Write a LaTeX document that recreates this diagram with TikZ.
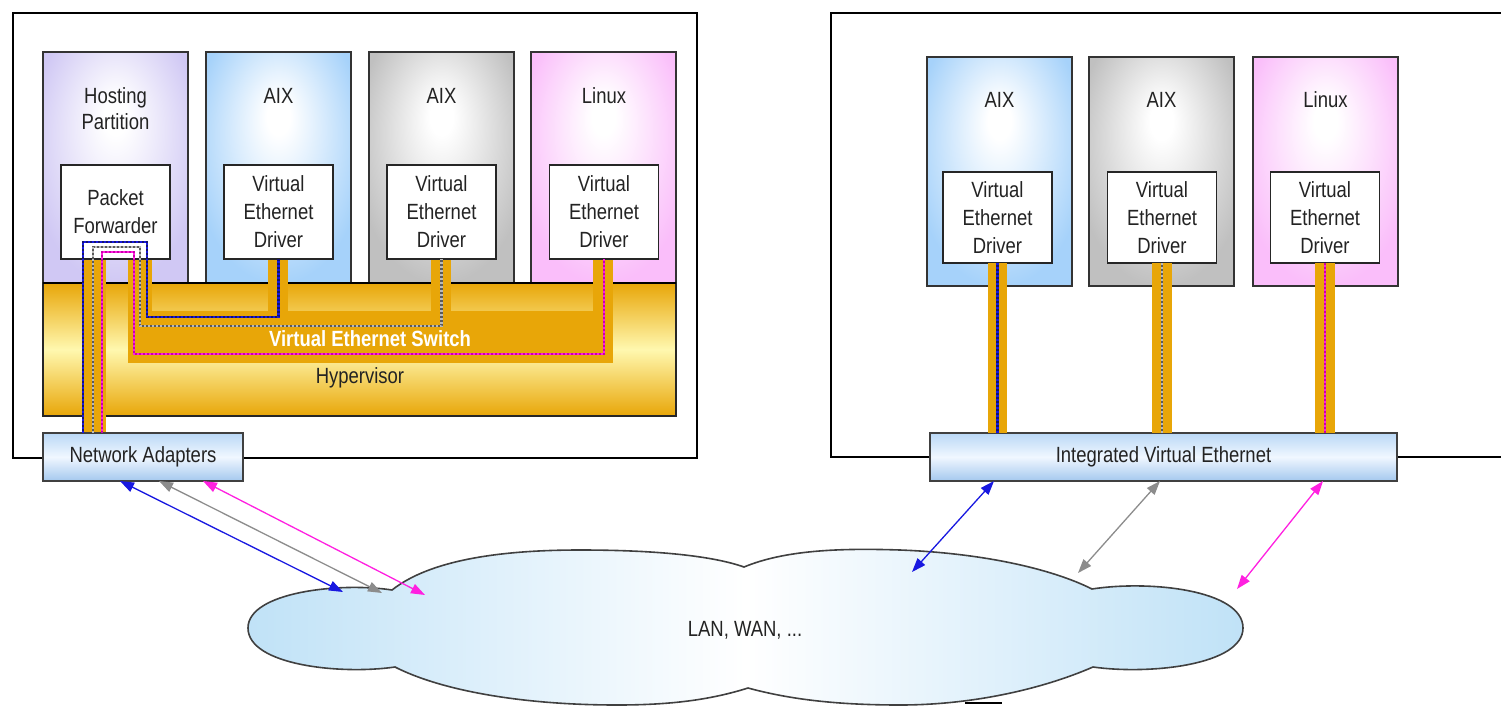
\documentclass[tikz,border=0pt]{standalone}
\usepackage{fontspec}
\setmainfont{Liberation Sans}[FakeStretch=0.84]
\usetikzlibrary{arrows.meta}

\definecolor{hostc}{RGB}{208,200,244}
\definecolor{aixb}{RGB}{166,210,250}
\definecolor{aixg}{RGB}{192,192,192}
\definecolor{linp}{RGB}{250,190,250}
\definecolor{gold}{RGB}{232,166,8}
\definecolor{paleY}{RGB}{255,248,175}
\definecolor{nabA}{RGB}{186,216,246}
\definecolor{nabB}{RGB}{240,247,255}
\definecolor{nabC}{RGB}{164,200,238}
\definecolor{cloudc}{RGB}{192,226,247}
\definecolor{pblue}{RGB}{24,24,224}
\definecolor{pblueD}{RGB}{20,20,110}
\definecolor{pgray}{RGB}{140,140,140}
\definecolor{pgrayD}{RGB}{90,90,90}
\definecolor{pmag}{RGB}{255,32,224}
\definecolor{pmagD}{RGB}{200,0,170}
\definecolor{txt}{RGB}{35,35,35}

\pgfdeclareradialshading{shH}{\pgfpoint{0bp}{12bp}}{color(0bp)=(white); color(4bp)=(white); color(30bp)=(hostc); color(50bp)=(hostc)}
\pgfdeclareradialshading{shB}{\pgfpoint{0bp}{12bp}}{color(0bp)=(white); color(4bp)=(white); color(30bp)=(aixb); color(50bp)=(aixb)}
\pgfdeclareradialshading{shG}{\pgfpoint{0bp}{12bp}}{color(0bp)=(white); color(4bp)=(white); color(30bp)=(aixg); color(50bp)=(aixg)}
\pgfdeclareradialshading{shP}{\pgfpoint{0bp}{12bp}}{color(0bp)=(white); color(4bp)=(white); color(30bp)=(linp); color(50bp)=(linp)}

\begin{document}
\begin{tikzpicture}[x=1pt,y=-1pt,
  font=\fontsize{22}{28}\selectfont,
  every node/.style={text=txt, inner sep=0pt, outer sep=0pt},
  frame/.style={draw=black, line width=2.6pt},
  part/.style={draw=black!80, line width=1.2pt, shade, anchor=north west, minimum width=145pt},
  drv/.style={draw=black!85, line width=1.2pt, fill=white, align=center, minimum width=109pt},
  lbl/.style={align=center},
  strip/.style={fill=gold},
  bpath/.style={draw=pblueD, line width=2.2pt, postaction={draw=pblue, line width=2.2pt, dash pattern=on 2pt off 2pt}},
  gpath/.style={draw=pgrayD, line width=2.2pt, postaction={draw=pgray!60, line width=2.2pt, dash pattern=on 2pt off 2pt}},
  mpath/.style={draw=pmag, line width=2.2pt, postaction={draw=pmagD, line width=2.2pt, dash pattern=on 2pt off 2pt}},
  nabox/.style={draw=black!75, line width=1.3pt, anchor=north west, minimum height=48pt, top color=nabA, bottom color=nabC, middle color=nabB},
  arr/.style={<->, >={Triangle[length=14pt,width=10pt]}, line width=1.3pt}
]
\useasboundingbox (0,0) rectangle (1501,709);

% outer frames
\draw[frame] (13,13) rectangle (697,458);
\draw[frame] (1512,13) -- (831,13) -- (831,457) -- (1512,457);

% ---------- left server ----------
\node[part, shading=shH, minimum height=231pt] (hp) at (43,52) {};
\node[part, shading=shB, minimum height=231pt] (lpb) at (206,52) {};
\node[part, shading=shG, minimum height=231pt] (lpg) at (369,52) {};
\node[part, shading=shP, minimum height=231pt] (lpp) at (531,52) {};

\node[lbl] (hpt) at (115.5,109) {Hosting\\[-2pt]Partition};
\node[lbl] (lpbt) at (278.5,96) {AIX};
\node[lbl] (lpgt) at (441.5,96) {AIX};
\node[lbl] (lppt) at (604,96) {Linux};

% hypervisor
\node[draw=black!85, line width=1.2pt, anchor=north west, minimum width=633pt, minimum height=133pt,
      top color=gold, bottom color=gold, middle color=paleY] (hv) at (43,283) {};
\draw[line width=2.6pt] (hv.north west) -- (hv.north east);

% virtual ethernet switch (gold strips)
\fill[strip] (82,259) rectangle (106,433);
\fill[strip] (128,259) rectangle (152,363);
\fill[strip] (128,311) rectangle (613,363);
\fill[strip] (268,259) rectangle (288,311);
\fill[strip] (431,259) rectangle (451,311);
\fill[strip] (593,259) rectangle (613,363);

\node[text=white, font=\fontsize{22}{24}\bfseries] (vsw) at (370,339) {Virtual Ethernet Switch};
\node (hvt) at (360,378) {Hypervisor};

% driver boxes
\node[drv, minimum height=94pt] (fwd) at (115.5,212) {Packet\\Forwarder};
\node[drv, minimum height=94pt] (ldb) at (278.5,212) {Virtual\\Ethernet\\Driver};
\node[drv, minimum height=94pt] (ldg) at (441.5,212) {Virtual\\Ethernet\\Driver};
\node[drv, minimum height=94pt] (ldp) at (604,212) {Virtual\\Ethernet\\Driver};

% network adapters
\node[nabox, minimum width=200pt] (na) at (43,433) {Network Adapters};

% paths
\coordinate (b1) at (83,242);  \coordinate (b2) at (147,242);  \coordinate (b3) at (147,317);
\coordinate (g1) at (93,247);  \coordinate (g2) at (140,247);  \coordinate (g3) at (140,326);
\coordinate (m1) at (102,252); \coordinate (m2) at (134,252);  \coordinate (m3) at (134,354);
\draw[bpath] (na.north -| b1) -- (b1) -- (b2) -- (b3) -- (b3 -| ldb.south) -- (ldb.south);
\draw[gpath] (na.north -| g1) -- (g1) -- (g2) -- (g3) -- (g3 -| ldg.south) -- (ldg.south);
\draw[mpath] (na.north -| m1) -- (m1) -- (m2) -- (m3) -- (m3 -| ldp.south) -- (ldp.south);

% ---------- right server ----------
\node[part, shading=shB, minimum height=229pt] (rpb) at (927,57) {};
\node[part, shading=shG, minimum height=229pt] (rpg) at (1089,57) {};
\node[part, shading=shP, minimum height=229pt] (rpp) at (1253,57) {};
\node[lbl] (rpbt) at (999.5,100) {AIX};
\node[lbl] (rpgt) at (1161.5,100) {AIX};
\node[lbl] (rppt) at (1325.5,100) {Linux};

\node[drv, minimum height=91pt] (rdb) at (997.5,217.5) {Virtual\\Ethernet\\Driver};
\node[drv, minimum height=91pt] (rdg) at (1162,217.5) {Virtual\\Ethernet\\Driver};
\node[drv, minimum height=91pt] (rdp) at (1325,217.5) {Virtual\\Ethernet\\Driver};

\node[nabox, minimum width=467pt] (ive) at (930,433) {Integrated Virtual Ethernet};

\fill[strip] ([xshift=-10pt]rdb.south) rectangle ([xshift=9pt]rdb.south |- ive.north);
\fill[strip] ([xshift=-10pt]rdg.south) rectangle ([xshift=10pt]rdg.south |- ive.north);
\fill[strip] ([xshift=-10pt]rdp.south) rectangle ([xshift=10pt]rdp.south |- ive.north);
\draw[bpath] (rdb.south) -- (rdb.south |- ive.north);
\draw[gpath] (rdg.south) -- (rdg.south |- ive.north);
\draw[mpath] (rdp.south) -- (rdp.south |- ive.north);

% ---------- cloud ----------
\path[draw=black!75, line width=1.6pt, left color=cloudc, right color=cloudc, middle color=white]
  (392,590) .. controls (430,560) and (500,550) .. (580,550)
  .. controls (650,550) and (710,555) .. (744,567)
  .. controls (785,550) and (840,548) .. (900,550)
  .. controls (980,553) and (1050,568) .. (1092,589)
  .. controls (1150,580) and (1243,590) .. (1243,628)
  .. controls (1243,665) and (1150,675) .. (1093,667)
  .. controls (1040,690) and (970,705) .. (900,705)
  .. controls (830,705) and (785,698) .. (748,688)
  .. controls (710,700) and (670,705) .. (617,705)
  .. controls (520,705) and (440,690) .. (395,667)
  .. controls (340,675) and (248,665) .. (248,628)
  .. controls (248,592) and (340,582) .. (392,590) -- cycle;
\draw[line width=2pt] (965,703) -- (1002,703);
\node (lan) at (745,630) {LAN, WAN, ...};

% ---------- arrows ----------
\coordinate (lx1) at (120,0); \coordinate (lx2) at (159,0); \coordinate (lx3) at (203,0);
\coordinate (lc1) at (343,592); \coordinate (lc2) at (382,593); \coordinate (lc3) at (425,595);
\draw[arr, pblue] (na.south -| lx1) -- (lc1);
\draw[arr, pgray] (na.south -| lx2) -- (lc2);
\draw[arr, pmag]  (na.south -| lx3) -- (lc3);

\coordinate (rx1) at (994,0); \coordinate (rx2) at (1160,0); \coordinate (rx3) at (1323,0);
\coordinate (rc1) at (912,572); \coordinate (rc2) at (1078,573); \coordinate (rc3) at (1237,589);
\draw[arr, pblue] (ive.south -| rx1) -- (rc1);
\draw[arr, pgray] (ive.south -| rx2) -- (rc2);
\draw[arr, pmag]  (ive.south -| rx3) -- (rc3);
\end{tikzpicture}
\end{document}
